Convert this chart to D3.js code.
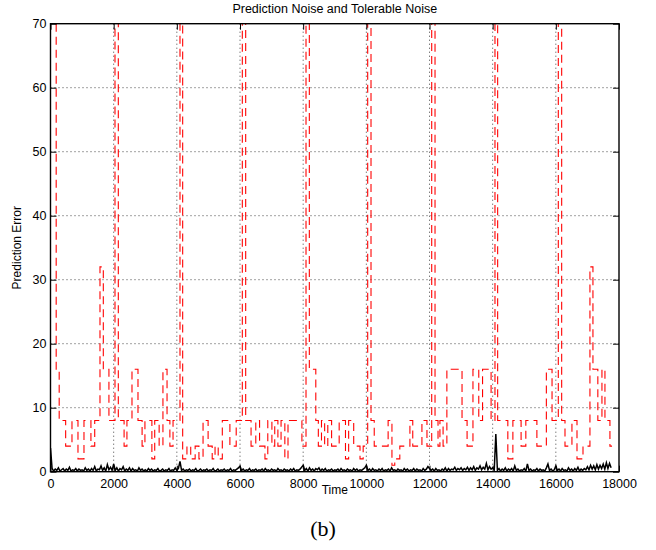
<!DOCTYPE html>
<html>
<head>
<meta charset="utf-8">
<script src="https://cdn.jsdelivr.net/npm/d3@7"></script>
<style>
    body { margin: 0; background: #fff; }
    text { font-family: "Liberation Sans", Arial, sans-serif; fill: #000; }
</style>
</head>
<body>
<div class="svg-container"></div>
<script>
const WIDTH = 656;
const HEIGHT = 550;
const PLOT = { left: 50.5, right: 619, top: 23.7, bottom: 471.7 };

const X_TICKS = [0, 2000, 4000, 6000, 8000, 10000, 12000, 14000, 16000, 18000];
const Y_TICKS = [0, 10, 20, 30, 40, 50, 60, 70];

// Tolerable noise: step function, each value holds from its time to the next one.
const tolTimes = [
    0, 180, 275, 480, 680, 870, 1060, 1280, 1400, 1567, 1672, 1850,
    2042, 2147, 2330, 2420, 2580, 2770, 2900, 2990, 3210, 3300, 3440, 3560, 3690, 3780, 3880,
    4100, 4185, 4320, 4440, 4580, 4700, 4830, 4990, 5120, 5210, 5310, 5440, 5680, 5880,
    6073, 6180, 6350, 6500, 6620, 6790, 6880, 7010, 7100, 7200, 7300, 7420, 7520, 7960,
    8090, 8195, 8400, 8480, 8580, 8680, 8780, 8900, 9140, 9340, 9440, 9600, 9800, 9900,
    10043, 10148, 10250, 10690, 10811, 10900, 11060, 11380, 11470, 11760, 11920,
    12070, 12175, 12270, 12330, 12430, 12550, 13030, 13190, 13376, 13560, 13680, 13950,
    14073, 14158, 14480, 14640, 14900, 15050, 15400, 15700, 15880,
    16078, 16185, 16290, 16510, 16670, 16860, 17080, 17175, 17330, 17460, 17555, 17713,
];
const tolValues = [
    128, 16, 8, 4, 8, 2, 8, 4, 8, 32, 16, 8,
    128, 8, 4, 8, 16, 8, 4, 8, 2, 8, 4, 16, 8, 4, 8,
    128, 2, 4, 2, 4, 2, 8, 4, 2, 4, 2, 8, 4, 8,
    128, 8, 4, 8, 4, 2, 8, 4, 8, 4, 8, 2, 8, 4,
    128, 16, 8, 4, 8, 4, 8, 4, 8, 2, 8, 4, 2, 4,
    128, 8, 4, 8, 1, 2, 4, 8, 4, 8, 4,
    128, 8, 4, 8, 4, 16, 8, 4, 16, 8, 16, 8,
    128, 8, 2, 8, 4, 8, 4, 16, 8,
    128, 8, 4, 8, 2, 4, 32, 16, 8, 16, 8, 4,
];
const TOL_END = 17780;

// Prediction noise, one reading every 50 time units starting at 0.
const NOISE_STEP = 50;
const noiseValues = [
    3.7, 0.5, 0.1, 0.4, 0.2, 0.6, 0.1, 0.3, 0.5, 0.1, 0.4, 0.2, 0.7, 0.1, 0.3, 0.2, 0.5, 0.1, 0.4, 0.2,
    0.3, 0.1, 0.6, 0.2, 0.4, 0.1, 0.5, 0.2, 0.8, 0.1, 0.4, 0.3, 0.9, 0.2, 0.6, 0.1, 1.1, 0.3, 0.7, 0.2,
    1.2, 0.2, 0.6, 0.1, 0.5, 0.3, 0.8, 0.1, 0.4, 0.2, 0.6, 0.1, 0.5, 0.2, 0.3, 0.1, 0.6, 0.2, 0.4, 0.1,
    0.3, 0.1, 0.5, 0.2, 0.4, 0.1, 0.3, 0.2, 0.5, 0.1, 0.2, 0.4, 0.1, 0.3, 0.2, 0.5, 0.1, 0.3, 0.2, 0.6,
    0.2, 0.5, 1.6, 0.2, 0.4, 0.1, 0.3, 0.2, 0.4, 0.1, 0.3, 0.2, 0.5, 0.1, 0.2, 0.4, 0.1, 0.3, 0.2, 0.4,
    0.1, 0.3, 0.2, 0.5, 0.1, 0.2, 0.4, 0.1, 0.3, 0.2, 0.4, 0.1, 0.3, 0.2, 0.5, 0.1, 0.3, 0.2, 0.4, 0.6,
    0.9, 0.2, 0.4, 0.1, 0.3, 0.2, 0.5, 0.1, 0.3, 0.2, 0.4, 0.1, 0.3, 0.2, 0.4, 0.1, 0.5, 0.2, 0.3, 0.1,
    0.4, 0.2, 0.3, 0.1, 0.5, 0.2, 0.3, 0.1, 0.4, 0.2, 0.3, 0.1, 0.4, 0.2, 0.5, 0.1, 0.3, 0.2, 0.4, 0.7,
    1.0, 0.2, 0.5, 0.1, 0.6, 0.2, 0.4, 0.1, 0.5, 0.3, 0.6, 0.1, 0.4, 0.2, 0.5, 0.1, 0.3, 0.2, 0.4, 0.1,
    0.3, 0.2, 0.4, 0.1, 0.5, 0.2, 0.3, 0.1, 0.4, 0.2, 0.3, 0.1, 0.5, 0.2, 0.4, 0.1, 0.3, 0.2, 0.4, 0.6,
    1.0, 0.2, 0.4, 0.1, 0.5, 0.2, 0.3, 0.1, 0.4, 0.2, 0.5, 0.1, 0.3, 0.2, 0.4, 0.1, 0.6, 0.2, 0.3, 0.1,
    0.4, 0.2, 0.3, 0.1, 0.5, 0.2, 0.4, 0.1, 0.3, 0.2, 0.5, 0.1, 0.4, 0.2, 0.3, 0.1, 0.5, 0.2, 0.4, 0.8,
    0.5, 0.2, 0.4, 0.1, 0.5, 0.2, 0.3, 0.1, 0.4, 0.2, 0.6, 0.1, 0.5, 0.2, 0.4, 0.3, 0.7, 0.2, 0.5, 0.3,
    0.6, 0.2, 0.5, 0.3, 0.7, 0.2, 0.6, 0.3, 0.8, 0.2, 0.6, 0.4, 0.9, 0.3, 0.7, 0.4, 1.3, 0.3, 0.8, 0.4,
    0.6, 0.3, 5.9, 0.2, 0.5, 0.1, 0.4, 0.2, 0.6, 0.1, 0.4, 0.2, 0.5, 0.1, 0.9, 0.2, 0.4, 0.1, 0.3, 0.2,
    0.5, 0.1, 1.2, 0.2, 0.4, 0.1, 0.3, 0.2, 0.5, 0.1, 0.4, 0.2, 0.3, 0.1, 0.6, 1.2, 0.2, 0.4, 0.1, 0.3,
    0.9, 0.2, 0.4, 0.1, 0.5, 0.2, 0.3, 0.1, 0.6, 0.2, 0.4, 0.1, 0.5, 0.2, 0.7, 0.1, 0.4, 0.2, 0.5, 0.3,
    0.8, 0.3, 1.0, 0.4, 0.9, 0.3, 1.1, 0.4, 1.0, 0.5, 1.2, 0.4, 1.4, 0.5, 1.3, 0.6,
];

const xScale = d3.scaleLinear().domain([0, 18000]).range([PLOT.left, PLOT.right]);
const yScale = d3.scaleLinear().domain([0, 70]).range([PLOT.bottom, PLOT.top]);

const svg = d3
    .select(".svg-container")
    .append("svg")
    .attr("width", WIDTH)
    .attr("height", HEIGHT);

svg.append("defs")
    .append("clipPath")
    .attr("id", "plot-clip")
    .append("rect")
    .attr("x", PLOT.left)
    .attr("y", PLOT.top)
    .attr("width", PLOT.right - PLOT.left)
    .attr("height", PLOT.bottom - PLOT.top);

// Dotted grid, MATLAB style.
const grid = svg.append("g").classed("grid", true);
grid.selectAll("line.vgrid")
    .data(X_TICKS.slice(1, -1))
    .enter()
    .append("line")
    .attr("x1", (d) => xScale(d))
    .attr("x2", (d) => xScale(d))
    .attr("y1", PLOT.top)
    .attr("y2", PLOT.bottom);
grid.selectAll("line.hgrid")
    .data(Y_TICKS.slice(1, -1))
    .enter()
    .append("line")
    .attr("x1", PLOT.left)
    .attr("x2", PLOT.right)
    .attr("y1", (d) => yScale(d))
    .attr("y2", (d) => yScale(d));
grid.selectAll("line")
    .attr("stroke", "#444")
    .attr("stroke-width", 1)
    .attr("stroke-dasharray", "1,3");

const lines = svg.append("g").attr("clip-path", "url(#plot-clip)");

// Step line for the tolerable noise.
const tolPoints = tolTimes.map((t, i) => [t, tolValues[i]]);
tolPoints.push([TOL_END, tolValues[tolValues.length - 1]]);
lines.append("path")
    .datum(tolPoints)
    .attr("fill", "none")
    .attr("stroke", "#ff0000")
    .attr("stroke-width", 1.1)
    .attr("stroke-dasharray", "8,5")
    .attr("d", d3.line()
        .curve(d3.curveStepAfter)
        .x((d) => xScale(d[0]))
        .y((d) => yScale(d[1])));

lines.append("path")
    .datum(noiseValues)
    .attr("fill", "none")
    .attr("stroke", "#000")
    .attr("stroke-width", 1.5)
    .attr("d", d3.line()
        .x((d, i) => xScale(i * NOISE_STEP))
        .y((d) => yScale(d)));

// Axes: ticks point inward, labels only bottom and left.
const axisFont = (g) => g.selectAll("text").attr("font-size", 12.5).attr("font-family", "Liberation Sans, Arial, sans-serif");

svg.append("g")
    .attr("transform", "translate(0," + PLOT.bottom + ")")
    .call(d3.axisBottom(xScale).tickValues(X_TICKS).tickFormat(d3.format("d")).tickSizeInner(-6).tickSizeOuter(0).tickPadding(7))
    .call(axisFont);
svg.append("g")
    .attr("transform", "translate(0," + PLOT.top + ")")
    .call(d3.axisTop(xScale).tickValues(X_TICKS).tickFormat("").tickSizeInner(-6).tickSizeOuter(0));
svg.append("g")
    .attr("transform", "translate(" + PLOT.left + ",0)")
    .call(d3.axisLeft(yScale).tickValues(Y_TICKS).tickSizeInner(-6).tickSizeOuter(0).tickPadding(4))
    .call(axisFont);
svg.append("g")
    .attr("transform", "translate(" + PLOT.right + ",0)")
    .call(d3.axisRight(yScale).tickValues(Y_TICKS).tickFormat("").tickSizeInner(-6).tickSizeOuter(0));

svg.selectAll(".domain").remove();
svg.selectAll(".tick line").attr("stroke", "#000");

svg.append("rect")
    .attr("x", PLOT.left)
    .attr("y", PLOT.top)
    .attr("width", PLOT.right - PLOT.left)
    .attr("height", PLOT.bottom - PLOT.top)
    .attr("fill", "none")
    .attr("stroke", "#000")
    .attr("stroke-width", 1.4);

svg.append("text")
    .attr("x", (PLOT.left + PLOT.right) / 2)
    .attr("y", 12.7)
    .attr("text-anchor", "middle")
    .attr("font-size", 12.5)
    .text("Prediction Noise and Tolerable Noise");

svg.append("text")
    .attr("x", (PLOT.left + PLOT.right) / 2)
    .attr("y", 494)
    .attr("text-anchor", "middle")
    .attr("font-size", 12)
    .text("Time");

svg.append("text")
    .attr("transform", "translate(21," + (PLOT.top + PLOT.bottom) / 2 + ") rotate(-90)")
    .attr("text-anchor", "middle")
    .attr("font-size", 12)
    .text("Prediction Error");

svg.append("text")
    .attr("x", 323)
    .attr("y", 536)
    .attr("text-anchor", "middle")
    .attr("font-size", 22)
    .style("font-family", "'Liberation Serif', 'Times New Roman', serif")
    .text("(b)");
</script>
</body>
</html>
